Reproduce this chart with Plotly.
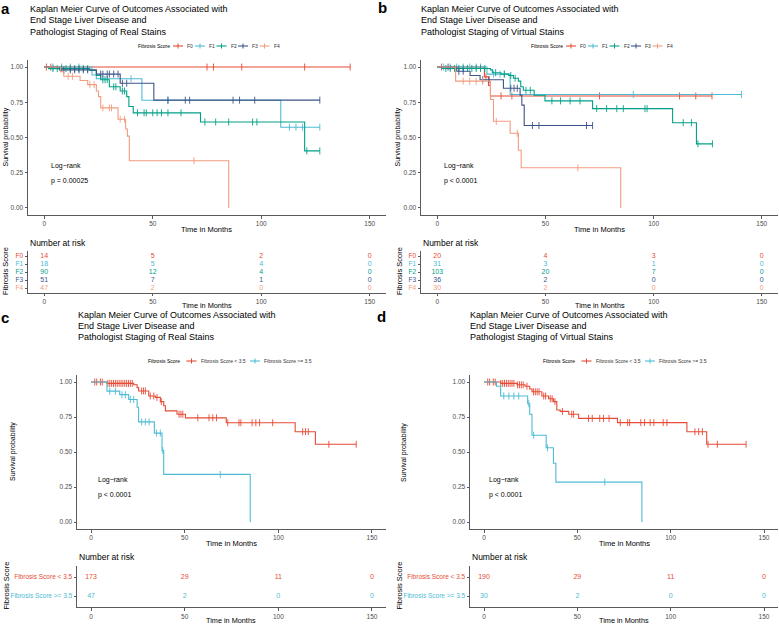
import numpy as np
import plotly.graph_objects as go

W, H = 779, 624
FONT = "Liberation Sans"

# ---------------- data ----------------
groups5 = ["F0", "F1", "F2", "F3", "F4"]
groups2 = ["Fibrosis Score < 3.5", "Fibrosis Score >= 3.5"]
colors5 = ["#E64B35", "#4DBBD5", "#00A087", "#3C5488", "#F39B7F"]
colors2 = ["#E64B35", "#4DBBD5"]
x_ticks = [0, 50, 100, 150]
y_ticks = [0.0, 0.25, 0.50, 0.75, 1.00]
risk_times = [0, 50, 100, 150]

# panel a (real stains, F0-F4)
a_f0_t = [0]
a_f0_s = [1.0]
a_f0_end = 141
a_f0_c = [1, 3, 75, 78, 91, 120, 141]
a_f1_t = [0, 22, 24, 45, 109]
a_f1_s = [1.0, 0.944, 0.917, 0.764, 0.573]
a_f1_end = 127
a_f1_c = [4, 8, 12, 16, 40, 57, 113, 116, 119, 127]
a_f2_t = [0, 2, 21, 24, 26, 30, 35, 38, 39, 41, 72, 120]
a_f2_s = [1.0, 0.989, 0.975, 0.94, 0.91, 0.86, 0.83, 0.79, 0.72, 0.675, 0.61, 0.405]
a_f2_end = 127
a_f2_c = [4, 6, 8, 10, 12, 14, 16, 18, 20, 27, 28, 29, 32, 33, 36, 37, 43, 46, 47, 50,
          52, 54, 57, 63, 74, 79, 85, 96, 98, 121, 127]
a_f3_t = [0, 7, 24, 35, 50.5]
a_f3_s = [1.0, 0.98, 0.95, 0.885, 0.765]
a_f3_end = 127
a_f3_c = [9, 12, 14, 16, 18, 20, 26, 27, 29, 30, 32, 34, 36, 38, 57, 65, 67, 87, 90, 97, 127]
a_f4_t = [0, 7.5, 9, 16.5, 20, 24, 25, 26, 34, 37.5, 38.3, 39.2, 85]
a_f4_s = [1.0, 0.967, 0.935, 0.905, 0.875, 0.83, 0.79, 0.71, 0.63, 0.56, 0.51, 0.335, 0.0]
a_f4_end = 85
a_f4_c = [11, 13, 21, 23, 27, 30, 31, 35, 37, 69]
a_risk = [[14, 5, 2, 0], [18, 5, 4, 0], [90, 12, 4, 0], [51, 7, 1, 0], [47, 2, 0, 0]]
a_pval = "p = 0.00025"

# panel b (virtual stains, F0-F4)
b_f0_t = [0, 21.8, 23.7, 24.6]
b_f0_s = [1.0, 0.93, 0.87, 0.795]
b_f0_end = 127
b_f0_c = [2, 22.5, 29.5, 34.5, 75, 112, 119.5, 127]
b_f1_t = [0, 23, 33.7]
b_f1_s = [1.0, 0.95, 0.805]
b_f1_end = 140.6
b_f1_c = [3, 6, 9, 12, 15, 18, 20, 26, 29, 31, 90.6, 140.6]
b_f2_t = [0, 2, 24.6, 25.5, 29.5, 33, 35.2, 37.5, 38.6, 39.8, 44.8, 49.8, 71.8, 108.8, 119.8]
b_f2_s = [1.0, 0.99, 0.98, 0.96, 0.95, 0.94, 0.92, 0.90, 0.86, 0.835, 0.80, 0.76, 0.705, 0.605, 0.455]
b_f2_end = 127.2
b_f2_c = [4, 6, 8, 10, 12, 14, 16, 18, 20, 22, 27, 31, 34, 36, 41, 43, 53, 57, 61.4, 66,
          73.7, 78.3, 83, 86, 96, 97, 113.7, 117.5, 120.5, 127.2]
b_f3_t = [0, 9, 15.2, 19.8, 30.6, 38.3, 39.1, 40.2]
b_f3_s = [1.0, 0.97, 0.94, 0.91, 0.85, 0.80, 0.73, 0.585]
b_f3_end = 71.8
b_f3_c = [5, 10, 12, 21, 24, 34, 35.5, 37, 44, 47, 69, 71.8]
b_f4_t = [0, 8.5, 24.6, 26, 33.7, 37.5, 38.8, 84.8]
b_f4_s = [1.0, 0.90, 0.77, 0.615, 0.53, 0.41, 0.285, 0.0]
b_f4_end = 84.8
b_f4_c = [12, 15, 18, 21, 27.3, 37, 65]
b_risk = [[20, 4, 3, 0], [31, 3, 1, 0], [103, 20, 7, 0], [36, 2, 0, 0], [30, 2, 0, 0]]
b_pval = "p < 0.0001"

# panel c (real stains, binary)
c_lo_t = [0, 8.5, 22.8, 24.6, 25.4, 30.8, 34.3, 37, 38.8, 39.7, 45.9, 50.4, 72.2, 109, 119.8]
c_lo_s = [1.0, 0.99, 0.98, 0.96, 0.936, 0.90, 0.89, 0.86, 0.83, 0.794, 0.77, 0.744, 0.709, 0.645, 0.555]
c_lo_end = 141.6
c_lo_c = [2, 3, 5, 6, 9, 10, 11, 12, 13, 14, 15, 16, 17, 18, 19, 20, 21, 22, 27, 28, 29, 31.6,
          33.5, 35.2, 37.5, 47, 48, 49, 57, 63, 65, 67, 73, 79, 80, 86, 88, 90, 97, 113, 114.5,
          116, 127, 141.6]
c_hi_t = [0, 8.5, 15.3, 20.1, 24.6, 25.4, 33.8, 37.9, 38.8, 85]
c_hi_s = [1.0, 0.935, 0.91, 0.875, 0.82, 0.715, 0.635, 0.51, 0.34, 0.0]
c_hi_end = 85
c_hi_c = [10, 13, 16.5, 18.3, 21, 22.8, 27, 29, 31, 35, 37, 38.3, 69]
c_risk = [[173, 29, 11, 0], [47, 2, 0, 0]]
c_pval = "p < 0.0001"

# panel d (virtual stains, binary)
d_lo_t = [0, 8.9, 17.7, 22, 24.5, 25.7, 31, 34.6, 37.2, 39, 40.8, 45.4, 50.7, 71.5, 108.7, 119.3]
d_lo_s = [1.0, 0.99, 0.98, 0.97, 0.95, 0.93, 0.90, 0.88, 0.86, 0.80, 0.79, 0.77, 0.74, 0.71, 0.645, 0.555]
d_lo_end = 140.4
d_lo_c = [2, 3, 5, 6, 9, 10, 11, 12, 13, 14, 15, 16, 18, 19, 20, 21, 23, 26.5, 27.5, 28.5, 29.5,
          32, 33, 35.5, 36.5, 38, 42, 47, 48, 56, 58, 62, 64, 67, 73, 77, 78, 84, 86, 89, 91, 96,
          98, 113, 115, 117, 120, 125, 140.4]
d_hi_t = [0, 6.7, 8.9, 23.4, 24.5, 25.7, 33.3, 37.2, 38.5, 84.6]
d_hi_s = [1.0, 0.97, 0.90, 0.845, 0.77, 0.62, 0.53, 0.42, 0.285, 0.0]
d_hi_end = 84.6
d_hi_c = [10.6, 13.3, 16, 18.6, 24, 26.6, 34, 64.7]
d_risk = [[190, 29, 11, 0], [30, 2, 0, 0]]
d_pval = "p < 0.0001"

titles = {
    "a": ["Kaplan Meier Curve of Outcomes Associated with", "End Stage Liver Disease and",
          "Pathologist Staging of Real Stains"],
    "b": ["Kaplan Meier Curve of Outcomes Associated with", "End Stage Liver Disease and",
          "Pathologist Staging of Virtual Stains"],
    "c": ["Kaplan Meier Curve of Outcomes Associated with", "End Stage Liver Disease and",
          "Pathologist Staging of Real Stains"],
    "d": ["Kaplan Meier Curve of Outcomes Associated with", "End Stage Liver Disease and",
          "Pathologist Staging of Virtual Stains"],
}

# ---------------- layout (pixel positions) ----------------
panels = [
    dict(key="a", curves=[(a_f0_t, a_f0_s, a_f0_end, a_f0_c), (a_f1_t, a_f1_s, a_f1_end, a_f1_c),
                          (a_f2_t, a_f2_s, a_f2_end, a_f2_c), (a_f3_t, a_f3_s, a_f3_end, a_f3_c),
                          (a_f4_t, a_f4_s, a_f4_end, a_f4_c)],
         groups=groups5, colors=colors5, risk=a_risk, pval=a_pval,
         px=(28, 386), km=(60, 215), rk=(251.2, 292.8), lab=(5.5, 9), title_x=29, title_y=9.5,
         leg_y=46, leg_title_x=137, leg_keys=[173, 195, 216.5, 238, 259.5],
         surv_lab_x=5, risk_lab_x=5, logrank=(50, 166)),
    dict(key="b", curves=[(b_f0_t, b_f0_s, b_f0_end, b_f0_c), (b_f1_t, b_f1_s, b_f1_end, b_f1_c),
                          (b_f2_t, b_f2_s, b_f2_end, b_f2_c), (b_f3_t, b_f3_s, b_f3_end, b_f3_c),
                          (b_f4_t, b_f4_s, b_f4_end, b_f4_c)],
         groups=groups5, colors=colors5, risk=b_risk, pval=b_pval,
         px=(421, 778), km=(60, 215), rk=(251.2, 292.8), lab=(382, 8), title_x=420, title_y=9.5,
         leg_y=46, leg_title_x=530, leg_keys=[566, 588, 609.5, 631, 652.5],
         surv_lab_x=397, risk_lab_x=399, logrank=(443, 166)),
    dict(key="c", curves=[(c_lo_t, c_lo_s, c_lo_end, c_lo_c), (c_hi_t, c_hi_s, c_hi_end, c_hi_c)],
         groups=groups2, colors=colors2, risk=c_risk, pval=c_pval,
         px=(77, 386), km=(375, 529), rk=(565.6, 607.4), lab=(5, 317), title_x=77, title_y=315,
         leg_y=361, leg_title_x=147, leg_keys=[186.5, 250],
         surv_lab_x=13, risk_lab_x=6, logrank=(97, 480)),
    dict(key="d", curves=[(d_lo_t, d_lo_s, d_lo_end, d_lo_c), (d_hi_t, d_hi_s, d_hi_end, d_hi_c)],
         groups=groups2, colors=colors2, risk=d_risk, pval=d_pval,
         px=(470, 778), km=(375, 529), rk=(565.6, 607.4), lab=(381, 316), title_x=469, title_y=315,
         leg_y=361, leg_title_x=542, leg_keys=[581.5, 645],
         surv_lab_x=404, risk_lab_x=399, logrank=(488, 480)),
]

AXC = "#5a5a5a"
TICKC = "#4d4d4d"


def fx(p):
    return p / W


def fy(p):
    return 1 - p / H


def esc(s):
    return s.replace("<", "&lt;").replace(">", "&gt;")


fig = go.Figure()
annotations = []
shapes = []
layout_axes = {}


def ann(text, x, y, size, xanchor="left", color="black", angle=0, bold=False):
    annotations.append(dict(
        text=f"<b>{text}</b>" if bold else text, x=fx(x), y=fy(y), xref="paper", yref="paper",
        xanchor=xanchor, yanchor="middle", showarrow=False, textangle=angle, borderpad=0,
        font=dict(family=FONT, size=size, color=color)))


for i, p in enumerate(panels):
    kx, ky = f"x{2*i+1}", f"y{2*i+1}"
    rx, ry = f"x{2*i+2}", f"y{2*i+2}"
    ng = len(p["groups"])
    xdom = [fx(p["px"][0]), fx(p["px"][1])]
    xrange = [-7.5, 157.5]
    common_x = dict(domain=xdom, range=xrange, showline=True, linecolor=AXC, linewidth=1,
                    ticks="outside", ticklen=2.5, tickwidth=0.8, tickcolor=AXC,
                    tickvals=x_ticks, ticktext=[str(v) for v in x_ticks],
                    tickfont=dict(family=FONT, size=6.5, color=TICKC),
                    showgrid=False, zeroline=False, fixedrange=True)
    layout_axes[f"xaxis{2*i+1}"] = dict(common_x, anchor=ky)
    layout_axes[f"xaxis{2*i+2}"] = dict(common_x, anchor=ry)
    layout_axes[f"yaxis{2*i+1}"] = dict(
        domain=[fy(p["km"][1]), fy(p["km"][0])], range=[-0.05, 1.05], anchor=kx,
        showline=True, linecolor=AXC, linewidth=1, ticks="outside", ticklen=2.5, tickwidth=0.8,
        tickcolor=AXC, tickvals=y_ticks, ticktext=[f"{v:.2f}" for v in y_ticks],
        tickfont=dict(family=FONT, size=6.5, color=TICKC),
        showgrid=False, zeroline=False, fixedrange=True)
    rows = list(range(ng, 0, -1))
    layout_axes[f"yaxis{2*i+2}"] = dict(
        domain=[fy(p["rk"][1]), fy(p["rk"][0])], range=[0.4, ng + 0.6], anchor=rx,
        showline=True, linecolor=AXC, linewidth=1, ticks="outside", ticklen=2.5, tickwidth=0.8,
        tickcolor=AXC, tickvals=rows,
        ticktext=[f'<span style="color:{c}">{esc(g)}</span>' for g, c in zip(p["groups"], p["colors"])],
        tickfont=dict(family=FONT, size=6.5),
        showgrid=False, zeroline=False, fixedrange=True)

    # KM curves
    for (t, s, end, cens), col in zip(p["curves"], p["colors"]):
        t = np.array(t, float)
        s = np.array(s, float)
        xs = np.append(t, end)
        ys = np.append(s, s[-1])
        fig.add_trace(go.Scatter(x=xs, y=ys, mode="lines", line=dict(color=col, width=1.1, shape="hv"),
                                 xaxis=kx, yaxis=ky, hoverinfo="skip"))
        c = np.array(cens, float)
        cy = s[np.searchsorted(t, c, side="right") - 1]
        fig.add_trace(go.Scatter(x=c, y=cy, mode="markers",
                                 marker=dict(symbol="line-ns-open", size=5, color=col,
                                             line=dict(color=col, width=0.9)),
                                 xaxis=kx, yaxis=ky, hoverinfo="skip"))

    # risk table numbers
    for r, vals, col in zip(rows, p["risk"], p["colors"]):
        fig.add_trace(go.Scatter(x=risk_times, y=[r] * len(vals), mode="text",
                                 text=[str(v) for v in vals],
                                 textfont=dict(family=FONT, size=7, color=col),
                                 xaxis=rx, yaxis=ry, hoverinfo="skip"))

    # texts
    ann(p["key"], p["lab"][0], p["lab"][1], 15, xanchor="center", bold=True)
    for j, line in enumerate(titles[p["key"]]):
        ann(line, p["title_x"], p["title_y"] + 11 * j, 9)
    cx = (p["px"][0] + p["px"][1]) / 2
    ann("Time in Months", cx, p["km"][1] + 14, 7.5, xanchor="center")
    ann("Time in Months", cx, p["rk"][1] + 12.8, 7.3, xanchor="center")
    ann("Survival probability", p["surv_lab_x"], (p["km"][0] + p["km"][1]) / 2, 7, xanchor="center", angle=-90)
    ann("Fibrosis Score", p["risk_lab_x"], (p["rk"][0] + p["rk"][1]) / 2 - 1, 7.5, xanchor="center", angle=-90)
    ann("Number at risk", p["px"][0] + 1, p["rk"][0] - 8.5, 8.5)
    ann("Log\u2212rank", p["logrank"][0], p["logrank"][1], 7)
    ann(p["pval"], p["logrank"][0], p["logrank"][1] + 15, 7)

    # legend
    ly = p["leg_y"]
    ann("Fibrosis Score", p["leg_title_x"], ly, 5)
    for kxp, g, col in zip(p["leg_keys"], p["groups"], p["colors"]):
        shapes.append(dict(type="line", xref="paper", yref="paper", x0=fx(kxp), x1=fx(kxp + 10),
                           y0=fy(ly), y1=fy(ly), line=dict(color=col, width=1.1)))
        shapes.append(dict(type="line", xref="paper", yref="paper", x0=fx(kxp + 5), x1=fx(kxp + 5),
                           y0=fy(ly - 2.5), y1=fy(ly + 2.5), line=dict(color=col, width=1)))
        ann(esc(g), kxp + 13, ly, 5, color="#333333")

fig.update_layout(
    width=W, height=H, margin=dict(l=0, r=0, t=0, b=0),
    paper_bgcolor="white", plot_bgcolor="white", showlegend=False,
    annotations=annotations, shapes=shapes, **layout_axes)

fig.write_html("out.html", config={"displayModeBar": False},
               post_script="document.body.style.margin='0';document.body.style.overflow='hidden';")
